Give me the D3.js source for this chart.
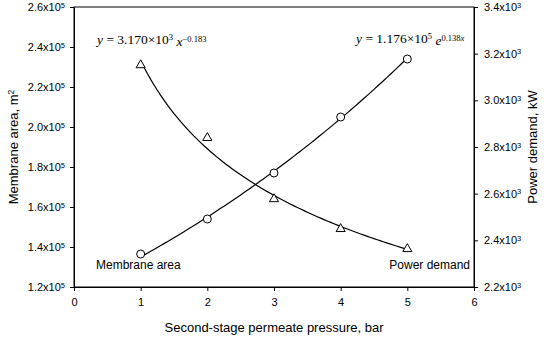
<!DOCTYPE html>
<html><head><meta charset="utf-8">
<script src="https://cdn.jsdelivr.net/npm/d3@7"></script>
<style>
body{margin:0;background:#fff;}
svg text{font-family:"Liberation Sans",Arial,sans-serif;fill:#000;}
</style></head>
<body><svg id="c" width="550" height="337"></svg>
<script>
// ---- data ----
const pressure = [1, 2, 3, 4, 5];
const membraneArea = [1.365e5, 1.54e5, 1.77e5, 2.05e5, 2.34e5];
const powerDemand = [3151, 2839, 2577, 2449, 2363];
const xTicks = [0, 1, 2, 3, 4, 5, 6];
const leftTicks = [1.2e5, 1.4e5, 1.6e5, 1.8e5, 2.0e5, 2.2e5, 2.4e5, 2.6e5];
const rightTicks = [2.2e3, 2.4e3, 2.6e3, 2.8e3, 3.0e3, 3.2e3, 3.4e3];
// fitted equations printed on the chart
const areaFit = {a: 1.176e5, b: 0.138};     // y = a e^(b x)
const powerFit = {a: 3.170e3, b: -0.183};   // y = a x^b

const svg = d3.select("#c");
const x = d3.scaleLinear([0, 6], [74, 474]);
const yL = d3.scaleLinear([1.2e5, 2.6e5], [287, 7]);
const yR = d3.scaleLinear([2.2e3, 3.4e3], [287, 7]);

function sciLabel(sel, exp, v) {
  sel.text(null);
  sel.append("tspan").text((v / Math.pow(10, exp)).toFixed(1) + "x10");
  sel.append("tspan").attr("dy", "-0.45em").attr("font-size", "7.5px").text(exp);
}

// frame
svg.append("rect").attr("x", 74).attr("y", 7).attr("width", 400).attr("height", 280)
  .attr("fill", "none").attr("stroke", "#000").attr("stroke-width", 1);

const gx = svg.append("g").attr("transform", "translate(0,287)")
  .call(d3.axisBottom(x).tickValues(xTicks).tickSize(4).tickSizeOuter(0).tickFormat(d3.format("d")));
gx.selectAll("text").attr("font-size", "11px").attr("dy", "1.05em");

const gl = svg.append("g").attr("transform", "translate(74,0)")
  .call(d3.axisLeft(yL).tickValues(leftTicks).tickSize(4).tickSizeOuter(0));
gl.selectAll(".tick text").attr("font-size", "11px").attr("x", -9).each(function(d){ sciLabel(d3.select(this), 5, d); });

const gr = svg.append("g").attr("transform", "translate(474,0)")
  .call(d3.axisRight(yR).tickValues(rightTicks).tickSize(4).tickSizeOuter(0));
gr.selectAll(".tick text").attr("font-size", "11px").attr("x", 10).each(function(d){ sciLabel(d3.select(this), 3, d); });

svg.selectAll(".domain").attr("stroke", "#000");
svg.selectAll(".tick line").attr("stroke", "#000");

// fit curves
const xs = d3.range(1, 5.0001, 0.05);
const line = d3.line().curve(d3.curveLinear);
svg.append("path").attr("fill", "none").attr("stroke", "#000").attr("stroke-width", 1.2)
  .attr("d", line(xs.map(v => [x(v), yL(areaFit.a * Math.exp(areaFit.b * v))])));
svg.append("path").attr("fill", "none").attr("stroke", "#000").attr("stroke-width", 1.2)
  .attr("d", line(xs.map(v => [x(v), yR(powerFit.a * Math.pow(v, powerFit.b))])));

// markers
svg.selectAll("circle.m").data(pressure).join("circle").attr("class", "m")
  .attr("cx", (d) => x(d)).attr("cy", (d, i) => yL(membraneArea[i])).attr("r", 4)
  .attr("fill", "#fff").attr("stroke", "#000").attr("stroke-width", 1);
const tri = d3.symbol().type(d3.symbolTriangle).size(36);
svg.selectAll("path.t").data(pressure).join("path").attr("class", "t")
  .attr("transform", (d, i) => `translate(${x(d)},${yR(powerDemand[i])})`)
  .attr("d", tri()).attr("fill", "#fff").attr("stroke", "#000").attr("stroke-width", 1);

// series labels
svg.append("text").attr("x", 96).attr("y", 269).attr("font-size", "12px").text("Membrane area");
svg.append("text").attr("x", 470).attr("y", 269).attr("font-size", "12px").attr("text-anchor", "end").text("Power demand");

// equations
function eq(xp, yp, parts) {
  const t = svg.append("text").attr("x", xp).attr("y", yp)
    .style("font-family", "'Liberation Serif','Times New Roman',serif").attr("font-size", "13.5px");
  parts.forEach(p => {
    const s = t.append("tspan").text(p.t);
    if (p.i) s.attr("font-style", "italic");
    if (p.dy) s.attr("dy", p.dy);
    if (p.fs) s.attr("font-size", p.fs);
  });
}
eq(97, 44, [{t: "y", i: 1}, {t: " = 3.170\u00d710"}, {t: "3", dy: "-0.45em", fs: "8.5px"},
  {t: " x", i: 1, dy: "0.45em"}, {t: "\u22120.183", dy: "-0.55em", fs: "8.5px"}]);
eq(356, 43, [{t: "y", i: 1}, {t: " = 1.176\u00d710"}, {t: "5", dy: "-0.45em", fs: "8.5px"},
  {t: " e", i: 1, dy: "0.45em"}, {t: "0.138", dy: "-0.55em", fs: "8.5px"}, {t: "x", i: 1, fs: "8.5px"}]);

// axis titles
svg.append("text").attr("x", 274).attr("y", 332).attr("text-anchor", "middle").attr("font-size", "13px")
  .text("Second-stage permeate pressure, bar");
const lt = svg.append("text").attr("transform", "translate(18,147) rotate(-90)").attr("text-anchor", "middle").attr("font-size", "13px");
lt.append("tspan").text("Membrane area, m");
lt.append("tspan").attr("dy", "-0.45em").attr("font-size", "8.5px").text("2");
svg.append("text").attr("transform", "translate(537,147) rotate(-90)").attr("text-anchor", "middle").attr("font-size", "13px")
  .text("Power demand, kW");
</script></body></html>
